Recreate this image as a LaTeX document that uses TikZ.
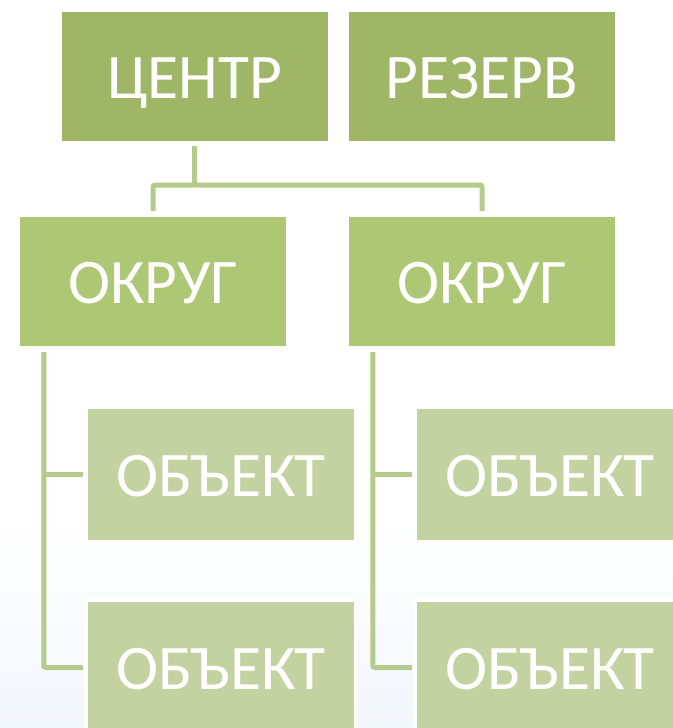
\documentclass[tikz,border=0pt]{standalone}
\usepackage{fontspec}
\setmainfont{Carlito}
\definecolor{topgreen}{HTML}{9FB667}
\definecolor{midgreen}{HTML}{ADC775}
\definecolor{lowgreen}{HTML}{C2D3A1}
\definecolor{linegreen}{HTML}{B5CB8C}
\definecolor{bgblue}{HTML}{F2F7FC}
\tikzset{
  box/.style={rectangle, inner sep=0pt, minimum width=266pt, text=white,
    font=\fontsize{63.5}{63.5}\selectfont, text height=44pt, text depth=0pt},
  topbox/.style={box, fill=topgreen, minimum height=129pt},
  midbox/.style={box, fill=midgreen, minimum height=129pt},
  lowbox/.style={box, fill=lowgreen, minimum height=131pt},
  conn/.style={draw=linegreen, line width=5pt, rounded corners=2pt},
  glow/.style={fill=white}
}
\begin{document}
\begin{tikzpicture}[x=1pt,y=-1pt]
\useasboundingbox (0,0) rectangle (672,728);
\fill[white] (0,0) rectangle (672,728);
\shade[top color=white, bottom color=bgblue] (0,520) rectangle (672,728);
% glow behind lower boxes
\fill[glow] (84,405) rectangle (358,544);
\fill[glow] (84,598) rectangle (358,738);
\fill[glow] (413,405) rectangle (688,544);
\fill[glow] (413,598) rectangle (688,738);
\node[topbox] (c) at (194.5,76.5) {ЦЕНТР};
\node[topbox] (r) at (482,76.5) {РЕЗЕРВ};
\node[midbox] (o1) at (153,281.5) {ОКРУГ};
\node[midbox] (o2) at (482,281.5) {ОКРУГ};
\node[lowbox] (a1) at (221,474.5) {ОБЪЕКТ};
\node[lowbox] (a2) at (221,667.5) {ОБЪЕКТ};
\node[lowbox] (b1) at (550,474.5) {ОБЪЕКТ};
\node[lowbox] (b2) at (550,667.5) {ОБЪЕКТ};
\coordinate (hub) at (194.5,185);
\draw[conn] ([yshift=-5pt]c.south) -- (hub) -| ([yshift=6pt]o1.north);
\draw[conn] (hub) -| ([yshift=6pt]o2.north);
\draw[conn] ([xshift=24pt,yshift=-6pt]o1.south west) |- ([xshift=-5pt]a2.west);
\draw[conn] ([xshift=24pt]o1.south west |- a1.west) -- ([xshift=-5pt]a1.west);
\draw[conn] ([xshift=24pt,yshift=-6pt]o2.south west) |- ([xshift=-5pt]b2.west);
\draw[conn] ([xshift=24pt]o2.south west |- b1.west) -- ([xshift=-5pt]b1.west);
\end{tikzpicture}
\end{document}
